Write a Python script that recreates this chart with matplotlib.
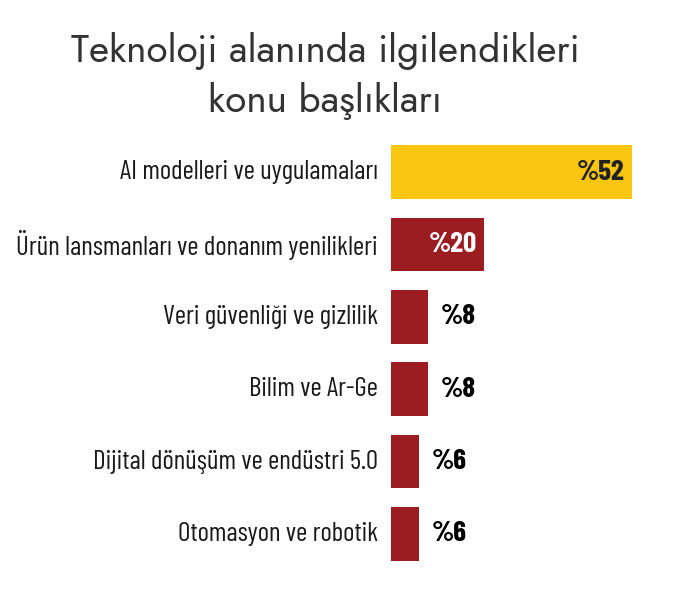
import matplotlib.pyplot as plt

# data
categories = [
    'AI modelleri ve uygulamaları',
    'Ürün lansmanları ve donanım yenilikleri',
    'Veri güvenliği ve gizlilik',
    'Bilim ve Ar-Ge',
    'Dijital dönüşüm ve endüstri 5.0',
    'Otomasyon ve robotik',
]
values = [52, 20, 8, 8, 6, 6]
value_labels = ['%52', '%20', '%8', '%8', '%6', '%6']
title_lines = ['Teknoloji alanında ilgilendikleri', 'konu başlıkları']

yellow = '#F8C511'
red = '#9B1C21'
bar_colors = [yellow] + [red] * 5
label_font = ['Barlow Condensed', 'DejaVu Sans']
title_font = ['Jost', 'DejaVu Sans']

px = 4.63  # pixels per percent

fig = plt.figure(figsize=(6.96, 6.12), dpi=100)
ax = fig.add_axes([391 / 696, 1 - 570 / 612, 305 / 696, 434 / 612])

y = list(range(len(values)))
ax.barh(y, values, height=0.74, color=bar_colors)
ax.set_xlim(0, 305 / px)
ax.set_ylim(len(values) - 0.5, -0.5)
ax.axis('off')

for i, (cat, v, lab) in enumerate(zip(categories, values, value_labels)):
    ax.text(-13 / px, i, cat, ha='right', va='center', fontsize=19.5,
            family=label_font, color='#1a1a1a')
    if v >= 40:
        ax.text(v - 1.5, i, lab, ha='right', va='center', fontsize=21,
                family=label_font, fontweight='bold', color='#222222')
    elif v >= 15:
        ax.text(v - 1.5, i, lab, ha='right', va='center', fontsize=21,
                family=label_font, fontweight='bold', color='white')
    else:
        ax.text(v + 2.8, i, lab, ha='left', va='center', fontsize=21,
                family=label_font, fontweight='bold', color='black')

titles = []
for k, line in enumerate(title_lines):
    t = fig.text(325 / 696, 1 - (62 + 50 * k) / 612, line, ha='center',
                 va='baseline', family=title_font, fontsize=30,
                 color='#333333')
    titles.append(t)

# scale title so the first line is about 510 px wide like the reference
fig.canvas.draw()
w = titles[0].get_window_extent().width
for t in titles:
    t.set_fontsize(30 * 510 / w)

fig.savefig('out.png', dpi=100, facecolor='white')
